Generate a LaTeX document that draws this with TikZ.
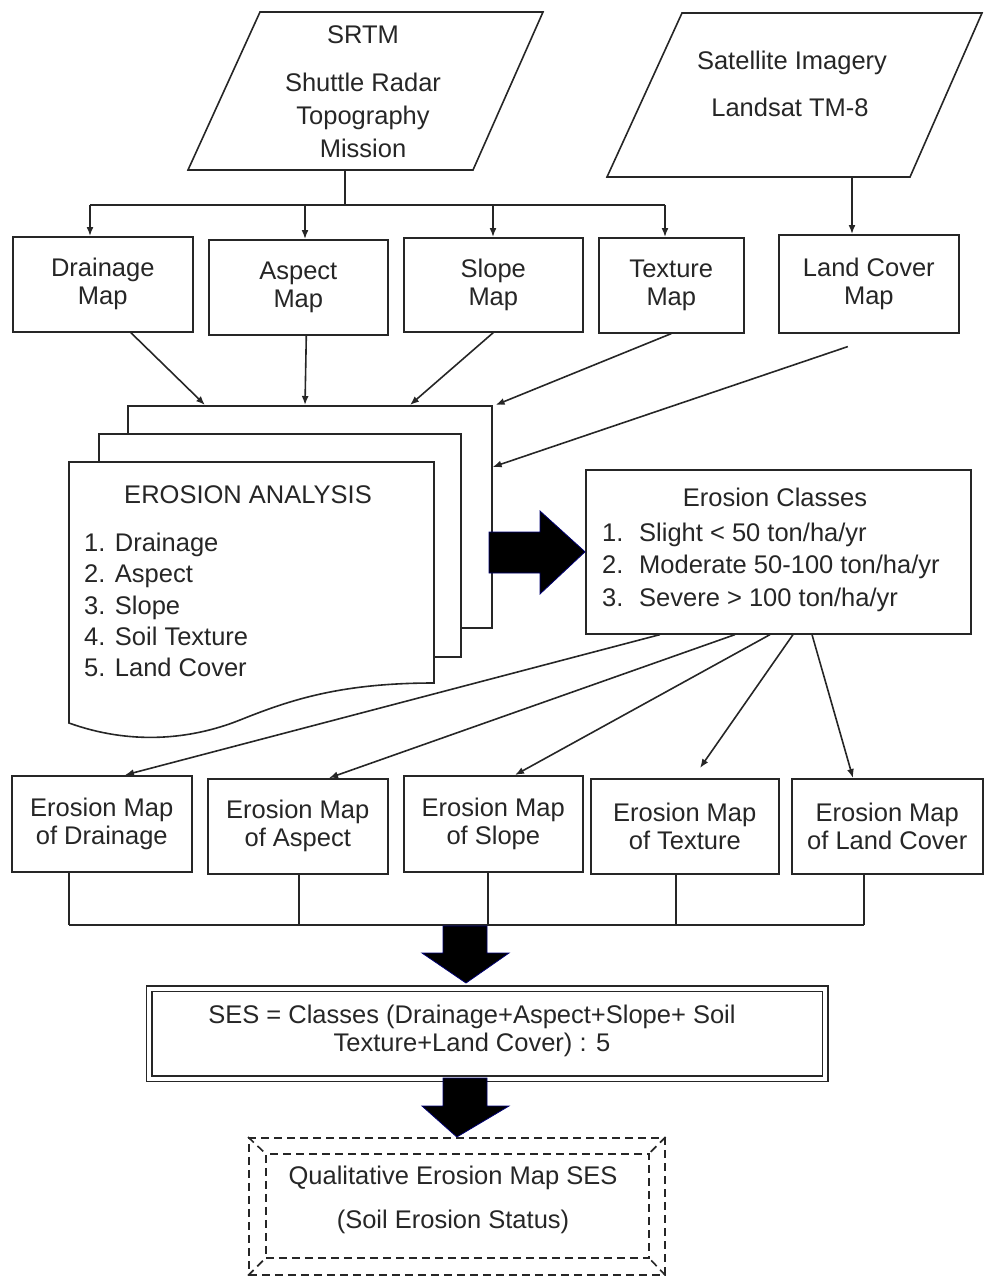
\documentclass[tikz,border=0pt]{standalone}
\usepackage{fontspec}
\setmainfont{Liberation Sans}
\usetikzlibrary{arrows.meta}
\begin{document}
\begin{tikzpicture}[x=1pt,y=-1pt,
  every node/.style={font=\fontsize{25.5}{28}\selectfont, inner sep=0pt, text=black!85},
  ln/.style={line width=1.6pt, draw=black!85},
  arr/.style={ln, -{Latex[length=9pt,width=7pt]}},
  box/.style={draw=black!85, line width=1.6pt, align=center, anchor=north west, fill=white},
  bigarrow/.style={fill=black, draw=blue!45!black, line width=0.8pt},
  dsh/.style={line width=1.6pt, draw=black!85, dash pattern=on 8pt off 5pt}]
\useasboundingbox (0,0) rectangle (984,1276);

% ---- inputs (parallelograms)
\draw[ln] (260,12) -- (543,12) -- (473,170) -- (188,170) -- cycle;
\node (srtmt) at (363,35) {SRTM};
\node[align=center, font=\fontsize{25.5}{33}\selectfont] (srtmd) at (363,115) {Shuttle Radar\\Topography\\Mission};
\coordinate (srtmb) at (345,170);

\draw[ln] (682,13) -- (982,13) -- (910,177) -- (607,177) -- cycle;
\node (satt) at (792,63) {Satellite Imagery};
\node (sats) at (790,107) {Landsat TM-8};
\coordinate (satb) at (852,177);

% ---- first row
\node[box, minimum width=180pt, minimum height=95pt] (dm) at (12,236) {Drainage\\Map};
\node[box, minimum width=179pt, minimum height=95pt] (am) at (208,239) {Aspect\\Map};
\node[box, minimum width=179pt, minimum height=94pt] (sm) at (403,237) {Slope\\Map};
\node[box, minimum width=145pt, minimum height=95pt] (tm) at (598,237) {Texture\\Map};
\node[box, minimum width=180pt, minimum height=98pt] (lc) at (778,234) {Land Cover\\Map};

\coordinate (h1) at (90,205);
\coordinate (h2) at (305,205);
\coordinate (h3) at (493,205);
\coordinate (h4) at (665,205);
\draw[ln] (srtmb) -- (srtmb |- h1);
\draw[ln] (h1) -- (h4);
\draw[arr] (h1) -- (h1 |- dm.north);
\draw[arr] (h2) -- (h2 |- am.north);
\draw[arr] (h3) -- (h3 |- sm.north);
\draw[arr] (h4) -- (h4 |- tm.north);
\draw[arr] (satb) -- (satb |- lc.north);

% ---- stacked document
\node[box, minimum width=364pt, minimum height=222pt] (s3) at (127,405) {};
\node[box, minimum width=362pt, minimum height=223pt] (s2) at (98,433) {};
\draw[ln, fill=white] (69,462) -- (434,462) -- (434,683)
   .. controls (340,683) and (290,700) .. (240,720)
   .. controls (190,740) and (130,745) .. (69,723) -- cycle;
\node (eat) at (248,495) {EROSION ANALYSIS};
\node[align=left, anchor=west, font=\fontsize{25.5}{31.3}\selectfont] (eal) at (84,605)
  {1. Drainage\\2. Aspect\\3. Slope\\4. Soil Texture\\5. Land Cover};

\draw[arr] ([xshift=28pt]dm.south) -- ([xshift=78pt]s3.north west);
\draw[arr] ([xshift=8pt]am.south) -- ([xshift=178pt]s3.north west);
\draw[arr] (sm.south) -- ([xshift=283pt]s3.north west);
\draw[arr] (tm.south) -- ([xshift=3pt]s3.north east);
\draw[arr] ([xshift=-21pt,yshift=-13pt]lc.south) -- ([yshift=-62pt]s3.north east);

% ---- erosion classes
\node[box, minimum width=385pt, minimum height=164pt] (ec) at (585,469) {};
\node (ect) at (775,497) {Erosion Classes};
\node[anchor=base west] (n1) at (602,541) {1.};
\node[anchor=base west] (n2) at (602,573) {2.};
\node[anchor=base west] (n3) at (602,606) {3.};
\node[anchor=base west] (c1) at (639,541) {Slight < 50 ton/ha/yr};
\node[anchor=base west] (c2) at (639,573) {Moderate 50-100 ton/ha/yr};
\node[anchor=base west] (c3) at (639,606) {Severe > 100 ton/ha/yr};

\draw[bigarrow] (489,532) -- (540,532) -- (540,511) -- (ec.west) -- (540,594) -- (540,573) -- (489,573) -- cycle;

% ---- erosion maps row
\node[box, minimum width=180pt, minimum height=96pt] (em1) at (11,775) {Erosion Map\\of Drainage};
\node[box, minimum width=180pt, minimum height=95pt] (em2) at (207,778) {Erosion Map\\of Aspect};
\node[box, minimum width=179pt, minimum height=96pt] (em3) at (403,775) {Erosion Map\\of Slope};
\node[box, minimum width=188pt, minimum height=95pt] (em4) at (590,778) {Erosion Map\\of Texture};
\node[box, minimum width=191pt, minimum height=95pt] (em5) at (791,778) {Erosion Map\\of Land Cover};

\draw[arr] ([xshift=75pt]ec.south west) -- ([xshift=114pt]em1.north west);
\draw[arr] ([xshift=150pt]ec.south west) -- ([xshift=122pt]em2.north west);
\draw[arr] ([xshift=185pt]ec.south west) -- ([xshift=112pt]em3.north west);
\draw[arr] ([xshift=208pt]ec.south west) -- ([xshift=110pt,yshift=10pt]em4.north west);
\draw[arr] ([xshift=227pt]ec.south west) -- ([xshift=62pt]em5.north west);

\coordinate (b1) at (69,925);
\coordinate (b2) at (299,925);
\coordinate (b3) at (488,925);
\coordinate (b4) at (676,925);
\coordinate (b5) at (864,925);
\draw[ln] (b1 |- em1.south) -- (b1);
\draw[ln] (b2 |- em2.south) -- (b2);
\draw[ln] (b3 |- em3.south) -- (b3);
\draw[ln] (b4 |- em4.south) -- (b4);
\draw[ln] (b5 |- em5.south) -- (b5);
\draw[ln] (b1) -- (b5);

% ---- SES box
\node[draw=black!85, double=white, double distance=3.6pt, line width=1.5pt,
      minimum width=676pt, minimum height=90pt, anchor=north west] (ses) at (148.5,988) {};
\node[align=center] (sest) at (472,1031) {SES = Classes (Drainage+Aspect+Slope+ Soil\\Texture+Land Cover) : 5};

\draw[bigarrow] (443,926) -- (487,926) -- (487,953) -- (509,953) -- (466,983) -- (422,953) -- (443,953) -- cycle;

% ---- result box
\node[dsh, minimum width=416pt, minimum height=137pt, anchor=north west] (res) at (248,1137) {};
\node[dsh, minimum width=383pt, minimum height=104pt, anchor=north west] (resi) at (265,1153) {};
\draw[dsh] (res.north west) -- (resi.north west);
\draw[dsh] (res.north east) -- (resi.north east);
\draw[dsh] (res.south west) -- (resi.south west);
\draw[dsh] (res.south east) -- (resi.south east);
\node (rt1) at (453,1178) {Qualitative Erosion Map SES};
\node (rt2) at (453,1222) {(Soil Erosion Status)};

\draw[bigarrow] (443,1078) -- (487,1078) -- (487,1106) -- (509,1106) -- (res.north) -- (422,1106) -- (443,1106) -- cycle;
\end{tikzpicture}
\end{document}
